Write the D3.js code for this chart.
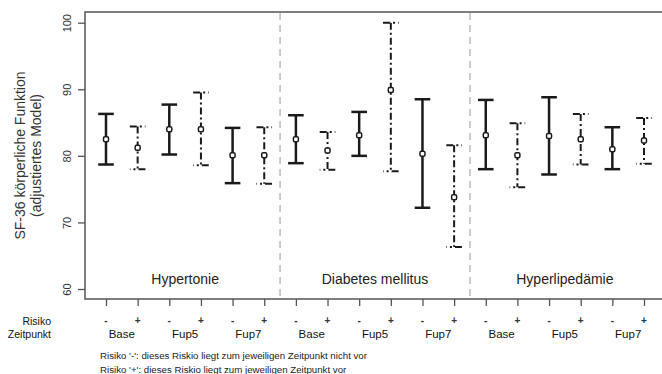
<!DOCTYPE html>
<html><head><meta charset="utf-8">
<script src="https://cdn.jsdelivr.net/npm/d3@7"></script>
<style>body{margin:0;background:#fff}svg{display:block;font-family:"Liberation Sans",Arial,sans-serif}</style>
</head><body><div id="chart"></div>
<script>
const groups = ["Hypertonie", "Diabetes mellitus", "Hyperlipedämie"];
const timepoints = ["Base", "Fup5", "Fup7"];
const risk = ["-", "+"];
const means = [82.5, 81.2, 84.0, 84.0, 80.1, 80.1,  82.5, 80.8, 83.1, 89.9, 80.3, 73.8,  83.1, 80.1, 83.0, 82.5, 81.0, 82.3];
const lower = [78.7, 78.0, 80.2, 78.6, 75.9, 75.8,  78.9, 77.9, 80.0, 77.7, 72.2, 66.3,  78.0, 75.3, 77.2, 78.7, 78.0, 78.8];
const upper = [86.3, 84.4, 87.7, 89.5, 84.2, 84.3,  86.1, 83.6, 86.6, 100.0, 88.5, 81.6,  88.4, 84.9, 88.8, 86.3, 84.3, 85.7];
const yTicks = [60, 70, 80, 90, 100];
const footnotes = ["Risiko '-': dieses Riskio liegt zum jeweiligen Zeitpunkt nicht vor",
                   "Risiko '+': dieses Riskio liegt zum jeweiligen Zeitpunkt vor"];

const W = 662, H = 374;
const svg = d3.select("#chart").append("svg").attr("width", W).attr("height", H);
const x = d3.scaleLinear().domain([1, 18]).range([106, 644]);
const y = d3.scaleLinear().domain([60, 100]).range([289, 22.7]);
const pLeft = 85, pTop = 12, pBottom = 299, pRight = 662;
const ink = "#1a1a1a", axc = "#555";

// frame
svg.append("path").attr("d", `M${pRight},${pTop}H${pLeft}V${pBottom}H${pRight}`)
  .attr("fill", "none").attr("stroke", axc).attr("stroke-width", 1.5);

// separators
[6.5, 12.5].forEach(v => {
  svg.append("line").attr("x1", x(v)).attr("x2", x(v)).attr("y1", pTop + 1).attr("y2", pBottom)
    .attr("stroke", "#bbb").attr("stroke-width", 1.5).attr("stroke-dasharray", "7,5");
});

// y axis
const yAxis = d3.axisLeft(y).tickValues(yTicks).tickSize(7).tickFormat(d3.format("d"));
const ya = svg.append("g").attr("transform", `translate(${pLeft},0)`).call(yAxis);
ya.select(".domain").remove();
ya.selectAll("line").attr("stroke", axc).attr("stroke-width", 1.3);
ya.selectAll("text").attr("font-size", 11).attr("fill", "#333")
  .attr("x", 0).attr("y", 0).attr("dy", null).attr("text-anchor", "middle").attr("dominant-baseline", "central")
  .attr("transform", "translate(-18,0) rotate(-90)");

// x axis ticks
const idx = d3.range(1, 19);
const xAxis = d3.axisBottom(x).tickValues(idx).tickSize(7).tickFormat("");
const xa = svg.append("g").attr("transform", `translate(0,${pBottom})`).call(xAxis);
xa.select(".domain").remove();
xa.selectAll("line").attr("stroke", axc).attr("stroke-width", 1.3);

// axis title
const yt = svg.append("text").attr("transform", `translate(20,155.5) rotate(-90)`)
  .attr("text-anchor", "middle").attr("font-size", 14).attr("fill", "#333");
yt.append("tspan").attr("x", 0).attr("dy", "0.35em").text("SF-36 körperliche Funktion");
yt.append("tspan").attr("x", 0).attr("dy", "16.5").text("(adjustiertes Model)");

// group labels
groups.forEach((g, k) => {
  svg.append("text").attr("x", x(3.5 + 6 * k)).attr("y", 279).attr("dominant-baseline", "central")
    .attr("text-anchor", "middle").attr("font-size", 14).attr("fill", "#222").text(g);
});

// bottom labels
svg.append("text").attr("x", 51).attr("y", 320.5).attr("text-anchor", "end").attr("dominant-baseline", "central")
  .attr("font-size", 10.5).attr("fill", "#111").text("Risiko");
svg.append("text").attr("x", 51).attr("y", 333.5).attr("text-anchor", "end").attr("dominant-baseline", "central")
  .attr("font-size", 10.5).attr("fill", "#111").text("Zeitpunkt");
idx.forEach(i => {
  svg.append("text").attr("x", x(i)).attr("y", 320.5).attr("text-anchor", "middle").attr("dominant-baseline", "central")
    .attr("font-size", 10).attr("font-weight", "bold").attr("fill", "#333").text(risk[(i - 1) % 2]);
});
for (let k = 0; k < 9; k++) {
  svg.append("text").attr("x", x(1.5 + 2 * k)).attr("y", 334).attr("text-anchor", "middle").attr("dominant-baseline", "central")
    .attr("font-size", 11.5).attr("fill", "#111").text(timepoints[k % 3]);
}
footnotes.forEach((f, k) => {
  svg.append("text").attr("x", 100).attr("y", 355 + 14 * k).attr("dominant-baseline", "central")
    .attr("font-size", 9.7).attr("fill", "#222").text(f);
});

// error bars
const cap = 7.8;
idx.forEach(i => {
  const j = i - 1, cx = x(i), plus = (j % 2 === 1);
  const g = svg.append("g").attr("stroke", ink).attr("fill", "none");
  const dash = plus ? "7,3,2,3" : null;
  const sw = plus ? 2 : 2.5;
  g.append("line").attr("x1", cx).attr("x2", cx).attr("y1", y(upper[j])).attr("y2", y(lower[j]))
    .attr("stroke-width", sw).attr("stroke-dasharray", dash);
  g.append("line").attr("x1", cx - cap).attr("x2", cx + cap).attr("y1", y(upper[j])).attr("y2", y(upper[j]))
    .attr("stroke-width", sw).attr("stroke-dasharray", dash);
  g.append("line").attr("x1", cx + cap).attr("x2", cx - cap).attr("y1", y(lower[j])).attr("y2", y(lower[j]))
    .attr("stroke-width", sw).attr("stroke-dasharray", dash);
  g.append("rect").attr("x", cx - 2.5).attr("y", y(means[j]) - 2.5).attr("width", 5).attr("height", 5)
    .attr("rx", 1.5).attr("fill", "#fff").attr("stroke-width", 1.5);
});
</script></body></html>
